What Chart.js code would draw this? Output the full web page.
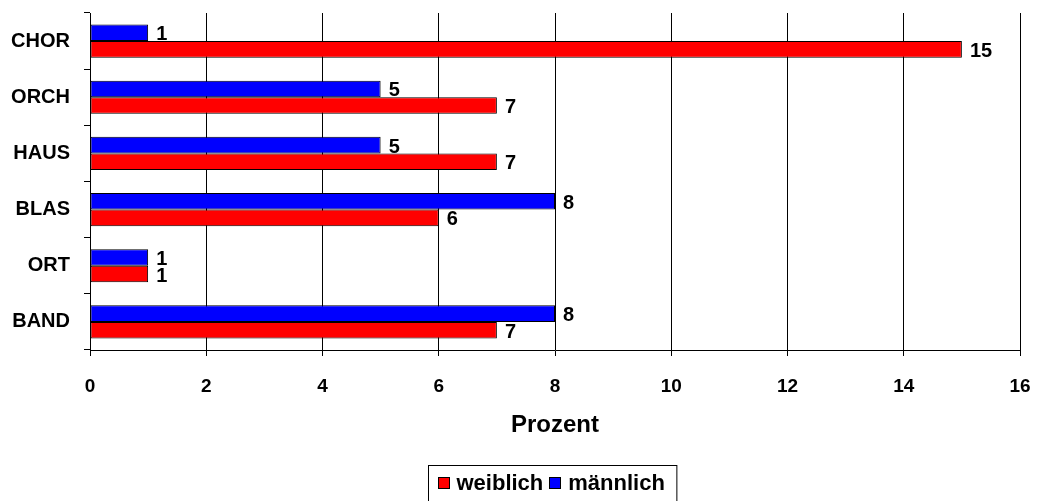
<!DOCTYPE html>
<html>
<head>
<meta charset="utf-8">
<script src="https://cdn.jsdelivr.net/npm/chart.js@4/dist/chart.umd.min.js"></script>
<style>
  html, body { margin: 0; padding: 0; background: #fff; }
  #wrap { width: 1039px; height: 501px; position: relative; }
</style>
</head>
<body>
<div id="wrap"><canvas id="c" width="1039" height="501"></canvas></div>
<script>
const categories = ['CHOR', 'ORCH', 'HAUS', 'BLAS', 'ORT', 'BAND'];
const maennlich = [1, 5, 5, 8, 1, 8];
const weiblich = [15, 7, 7, 6, 1, 7];
const xTicks = [0, 2, 4, 6, 8, 10, 12, 14, 16];
const seriesNames = ['männlich', 'weiblich'];
const axisTitle = 'Prozent';

const FONT = "'Liberation Sans', Arial, sans-serif";

const valueLabels = {
  id: 'valueLabels',
  afterDatasetsDraw(chart) {
    const ctx = chart.ctx;
    ctx.save();
    ctx.font = 'bold 20px ' + FONT;
    ctx.fillStyle = '#000';
    ctx.textAlign = 'left';
    ctx.textBaseline = 'middle';
    chart.data.datasets.forEach((ds, i) => {
      const meta = chart.getDatasetMeta(i);
      meta.data.forEach((bar, j) => {
        ctx.fillText(String(ds.data[j]), bar.x + 8, bar.y + 2);
      });
    });
    ctx.restore();
  }
};

const boxLegend = {
  id: 'boxLegend',
  afterDraw(chart) {
    const ctx = chart.ctx;
    const ca = chart.chartArea;
    ctx.save();
    ctx.font = 'bold 22px ' + FONT;
    const order = [1, 0];
    const sq = 12, gapSq = 7, gapItem = 6, padL = 9, padR = 12;
    let total = padL + padR;
    order.forEach((di, k) => {
      total += sq + gapSq + ctx.measureText(chart.data.datasets[di].label).width;
      if (k < order.length - 1) total += gapItem;
    });
    const cx = (ca.left + ca.right) / 2 - 3;
    const left = Math.round(cx - total / 2) + 0.5;
    const top = 465.5;
    ctx.strokeStyle = '#000';
    ctx.lineWidth = 1;
    ctx.strokeRect(left, top, total, 50);
    let x = left + padL;
    const yMid = 483;
    ctx.textBaseline = 'middle';
    ctx.textAlign = 'left';
    order.forEach((di) => {
      const ds = chart.data.datasets[di];
      ctx.fillStyle = ds.backgroundColor;
      ctx.fillRect(Math.round(x), yMid - sq / 2, sq, sq);
      ctx.strokeStyle = '#000';
      ctx.strokeRect(Math.round(x) + 0.5, yMid - sq / 2 + 0.5, sq - 1, sq - 1);
      x += sq + gapSq;
      ctx.fillStyle = '#000';
      ctx.fillText(ds.label, x, yMid + 1);
      x += ctx.measureText(ds.label).width + gapItem;
    });
    ctx.restore();
  }
};

new Chart(document.getElementById('c'), {
  type: 'bar',
  data: {
    labels: categories,
    datasets: [
      { label: seriesNames[0], data: maennlich, backgroundColor: '#0000FF', borderColor: '#000', borderWidth: 1, borderSkipped: false },
      { label: seriesNames[1], data: weiblich, backgroundColor: '#FF0000', borderColor: '#000', borderWidth: 1, borderSkipped: false }
    ]
  },
  options: {
    indexAxis: 'y',
    responsive: false,
    animation: false,
    devicePixelRatio: 1,
    datasets: { bar: { categoryPercentage: 0.59, barPercentage: 1.0 } },
    layout: { padding: { top: 13, right: 19, left: 0, bottom: 61 } },
    plugins: { legend: { display: false }, tooltip: { enabled: false } },
    scales: {
      x: {
        type: 'linear',
        min: 0, max: 16,
        afterBuildTicks(scale) { scale.ticks = xTicks.map(v => ({ value: v })); },
        afterFit(scale) {
          scale.height = 90;
          scale.paddingLeft = 0; scale.paddingRight = 0;
          scale.paddingTop = 0; scale.paddingBottom = 0;
        },
        grid: { color: '#000', lineWidth: 1, tickLength: 6, drawOnChartArea: true },
        border: { color: '#000', width: 1 },
        ticks: { color: '#000', padding: 19, font: { family: FONT, size: 19, weight: 'bold' } },
        title: { display: true, text: axisTitle, color: '#000', padding: { top: 12, bottom: 0 }, font: { family: FONT, size: 24, weight: 'bold' } }
      },
      y: {
        type: 'category',
        offset: true,
        afterFit(scale) {
          scale.width = 90;
          scale.paddingLeft = 0; scale.paddingRight = 0;
          scale.paddingTop = 0; scale.paddingBottom = 0;
        },
        grid: { color: '#000', drawOnChartArea: false, tickLength: 6, offset: true },
        border: { color: '#000', width: 1 },
        ticks: { color: '#000', padding: 14, font: { family: FONT, size: 20, weight: 'bold' } }
      }
    }
  },
  plugins: [valueLabels, boxLegend]
});
</script>
</body>
</html>
